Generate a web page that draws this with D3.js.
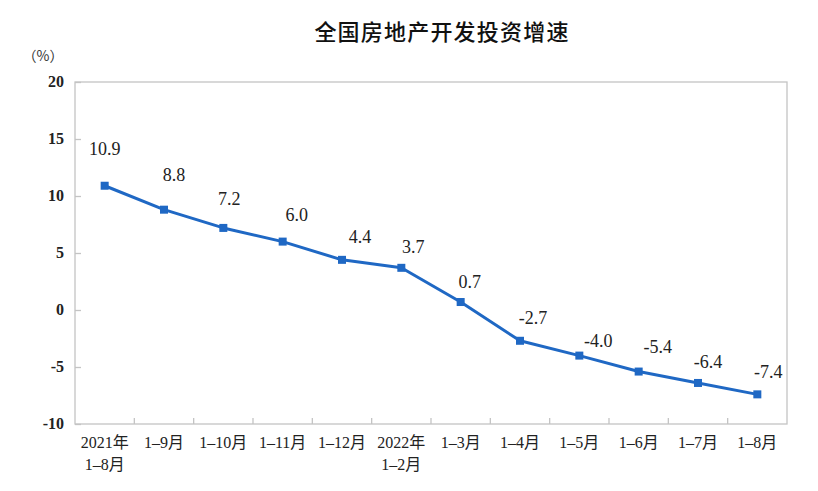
<!DOCTYPE html>
<html>
<head>
<meta charset="utf-8">
<script src="https://cdn.jsdelivr.net/npm/d3@7"></script>
<style>
  body { margin: 0; background: #fff; }
  svg { display: block; }
</style>
</head>
<body>
<div id="chart"></div>
<script>
// data
var categories = ["2021年|1-8月", "1-9月", "1-10月", "1-11月", "1-12月", "2022年|1-2月",
    "1-3月", "1-4月", "1-5月", "1-6月", "1-7月", "1-8月"];
var growth = [10.9, 8.8, 7.2, 6.0, 4.4, 3.7, 0.7, -2.7, -4.0, -5.4, -6.4, -7.4];
var yTicks = [-10, -5, 0, 5, 10, 15, 20];

var W = 818, H = 491;
var margin = {top: 82, right: 31, bottom: 67, left: 75};
var serif = "'Liberation Serif', 'Times New Roman', 'Noto Sans CJK SC', serif";
var lineColor = "#1f68c4";

var svg = d3.select("#chart")
    .append("svg")
    .attr("width", W)
    .attr("height", H);

// title
svg.append("text")
    .attr("x", 442)
    .attr("y", 40)
    .attr("text-anchor", "middle")
    .style("font-family", "'Noto Sans CJK SC', sans-serif")
    .style("font-size", "22px")
    .style("font-weight", "500")
    .style("letter-spacing", "1.2px")
    .style("fill", "#111")
    .text("全国房地产开发投资增速");

// unit
svg.append("text")
    .attr("x", 43)
    .attr("y", 61)
    .attr("text-anchor", "middle")
    .style("font-family", "'Noto Sans CJK SC', sans-serif")
    .style("font-size", "14px")
    .style("fill", "#333")
    .text("（%）");

var x = d3.scaleBand()
    .domain(categories)
    .range([margin.left, W - margin.right]);

var y = d3.scaleLinear()
    .domain([-10, 20])
    .range([H - margin.bottom, margin.top]);

// plot frame
svg.append("rect")
    .attr("x", margin.left)
    .attr("y", margin.top)
    .attr("width", W - margin.left - margin.right)
    .attr("height", H - margin.top - margin.bottom)
    .attr("fill", "none")
    .attr("stroke", "#c4c4c4")
    .attr("stroke-width", 1.3);

// y axis, ticks pointing inward
var yAxis = svg.append("g")
    .attr("transform", "translate(" + margin.left + ",0)")
    .call(d3.axisRight(y).tickValues(yTicks).tickSize(6).tickFormat(""));
yAxis.select(".domain").remove();
yAxis.selectAll("line").attr("stroke", "#c4c4c4").attr("stroke-width", 1.3);

svg.selectAll(".ylab")
    .data(yTicks)
    .enter()
    .append("text")
    .attr("class", "ylab")
    .attr("x", 64)
    .attr("y", function (d) { return y(d) + 5; })
    .attr("text-anchor", "end")
    .style("font-family", serif)
    .style("font-size", "16px")
    .style("font-weight", "bold")
    .style("fill", "#222")
    .text(function (d) { return d; });

// x ticks at the band boundaries, pointing up
svg.selectAll(".xtick")
    .data(categories.slice(1))
    .enter()
    .append("line")
    .attr("class", "xtick")
    .attr("x1", function (d) { return x(d); })
    .attr("x2", function (d) { return x(d); })
    .attr("y1", H - margin.bottom)
    .attr("y2", H - margin.bottom - 6)
    .attr("stroke", "#c4c4c4")
    .attr("stroke-width", 1.3);

// x labels (two lines where needed)
var xl = svg.selectAll(".xlab")
    .data(categories)
    .enter()
    .append("text")
    .attr("class", "xlab")
    .attr("text-anchor", "middle")
    .style("font-family", serif)
    .style("font-size", "16px")
    .style("fill", "#222");
xl.each(function (d) {
    var parts = d.split("|");
    var t = d3.select(this);
    parts.forEach(function (p, i) {
        t.append("tspan")
            .attr("x", x(d) + x.bandwidth() / 2)
            .attr("y", 448 + i * 22)
            .text(p.replace("-", "–"));
    });
});

var cx = function (i) { return x(categories[i]) + x.bandwidth() / 2; };

// line
svg.append("path")
    .datum(growth)
    .attr("fill", "none")
    .attr("stroke", lineColor)
    .attr("stroke-width", 3)
    .attr("stroke-linejoin", "round")
    .attr("d", d3.line()
        .x(function (d, i) { return cx(i); })
        .y(function (d) { return y(d); }));

// square markers
svg.selectAll(".pt")
    .data(growth)
    .enter()
    .append("rect")
    .attr("class", "pt")
    .attr("x", function (d, i) { return cx(i) - 4; })
    .attr("y", function (d) { return y(d) - 4; })
    .attr("width", 8)
    .attr("height", 8)
    .attr("fill", lineColor);

// value labels, nudged a bit as in the original
var nudgeX = [0, 10, 6, 14, 18, 12, 9, 13, 19, 19, 10, 11];
var nudgeY = [-31, -29, -23, -21, -17, -15, -14, -17, -9, -19, -15, -16];
svg.selectAll(".vlab")
    .data(growth)
    .enter()
    .append("text")
    .attr("class", "vlab")
    .attr("x", function (d, i) { return cx(i) + nudgeX[i]; })
    .attr("y", function (d, i) { return y(d) + nudgeY[i]; })
    .attr("text-anchor", "middle")
    .style("font-family", serif)
    .style("font-size", "18px")
    .style("fill", "#222")
    .text(function (d) { return d.toFixed(1); });
</script>
</body>
</html>
